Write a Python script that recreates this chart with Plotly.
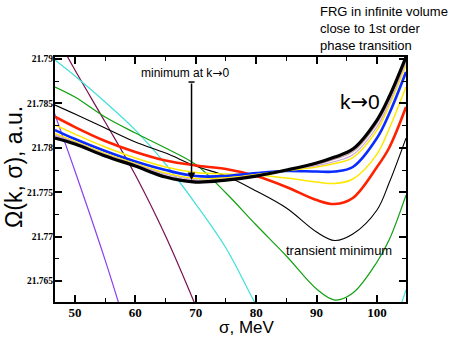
import plotly.graph_objects as go

# ---------------- data ----------------
sigma = [46.7, 50, 55, 60, 65, 70, 75, 80, 85, 90, 93, 96, 100, 102, 104.8]

omega_k0 = [21.78110, 21.78043, 21.77908, 21.77795, 21.77671, 21.77615, 21.77637, 21.77682,
            21.77750, 21.77829, 21.77896, 21.77986, 21.78313, 21.78572, 21.79023]
omega_pinkA = [21.78127, 21.78052, 21.77917, 21.77804, 21.77686, 21.77628, 21.77645, 21.77688,
               21.77748, 21.77814, 21.77873, 21.77955, 21.78276, 21.78538, 21.78993]
omega_pinkB = [21.78144, 21.78062, 21.77927, 21.77814, 21.77702, 21.77641, 21.77652, 21.77694,
               21.77747, 21.77798, 21.77847, 21.77922, 21.78238, 21.78505, 21.78962]
omega_yellow2 = [21.78161, 21.78071, 21.77936, 21.77823, 21.77716, 21.77654, 21.77660, 21.77699,
                 21.77744, 21.77784, 21.77823, 21.77891, 21.78200, 21.78471, 21.78932]
omega_blue = [21.78200, 21.78099, 21.77964, 21.77846, 21.77750, 21.77682, 21.77682, 21.77716,
              21.77739, 21.77733, 21.77733, 21.77784, 21.78110, 21.78381, 21.78854]
omega_yellow1 = [21.78257, 21.78155, 21.78009, 21.77885, 21.77784, 21.77722, 21.77705, 21.77694,
                 21.77660, 21.77615, 21.77598, 21.77649, 21.77930, 21.78212, 21.78685]
omega_red = [21.78350, 21.78234, 21.78077, 21.77953, 21.77857, 21.77801, 21.77761, 21.77682,
             21.77559, 21.77412, 21.77367, 21.77435, 21.77784, 21.77998, 21.78459]
omega_black = [21.78482, 21.78381, 21.78223, 21.78065, 21.77941, 21.77795, 21.77682, 21.77514,
               21.77322, 21.77052, 21.76956, 21.77029, 21.77300, 21.77604, 21.78110]
omega_green = [21.78685, 21.78572, 21.78347, 21.78167, 21.77998, 21.77812, 21.77491, 21.77131,
               21.76782, 21.76410, 21.76286, 21.76365, 21.76714, 21.76962, 21.77468]

sigma_cyan = [46.7, 50, 55, 60, 65, 70, 75, 80, 85, 90, 93, 96, 100, 103, 104.8]
omega_cyan = [21.78989, 21.78809, 21.78516, 21.78200, 21.77818, 21.77367, 21.76872, 21.76230,
              21.75650, 21.75300, 21.75200, 21.75250, 21.75550, 21.76050, 21.76400]

sigma_maroon = [48, 50, 55, 60, 65, 70]
omega_maroon = [21.79124, 21.78876, 21.78291, 21.77694, 21.77007, 21.76219]

sigma_purple = [46.0, 50, 55, 58]
omega_purple = [21.78505, 21.77739, 21.76736, 21.76083]

x_ticks = [50, 60, 70, 80, 90, 100]
x_ticklabels = ["50", "60", "70", "80", "90", "100"]
x_minor = [55, 65, 75, 85, 95]
y_ticks = [21.765, 21.77, 21.775, 21.78, 21.785, 21.79]
y_ticklabels = ["21.765", "21.77", "21.775", "21.78", "21.785", "21.79"]
y_minor = [21.7675, 21.7725, 21.7775, 21.7825, 21.7875]

# ---------------- figure ----------------
fig = go.Figure()

def add(xs, ys, color, width):
    fig.add_trace(go.Scatter(x=xs, y=ys, mode="lines",
                             line=dict(color=color, width=width, shape="spline", smoothing=1.0),
                             hoverinfo="skip", showlegend=False))

add(sigma_purple, omega_purple, "#8a3ff0", 1.2)
add(sigma_maroon, omega_maroon, "#7a1050", 1.2)
add(sigma_cyan, omega_cyan, "#40e0d8", 1.2)
add(sigma, omega_green, "#10a010", 1.2)
add(sigma, omega_black, "#000000", 1.1)
add(sigma, omega_red, "#ff2200", 2.6)
add(sigma, omega_yellow1, "#ffe800", 1.5)
add(sigma, omega_blue, "#0a2cff", 2.6)
add(sigma, omega_yellow2, "#ffe800", 1.5)
add(sigma, omega_pinkB, "#c8a2d8", 1.1)
add(sigma, omega_pinkA, "#c49a9a", 1.1)
add(sigma, omega_k0, "#000000", 3.2)

label_font = dict(family="Liberation Sans, Arial, sans-serif", color="black")
ARROW = "<span style='font-family:DejaVu Sans'>→</span>"

annotations = [
    dict(text="σ, MeV", xref="paper", yref="paper", x=0.547, y=-0.104,
         xanchor="center", yanchor="middle",
         showarrow=False, font=dict(size=17, **label_font)),
    dict(text="Ω(k, σ), a.u.", xref="paper", yref="paper", x=-0.117, y=0.551,
         xanchor="center", yanchor="middle",
         textangle=-90, showarrow=False, font=dict(size=23, **label_font)),
    dict(text="FRG in infinite volume<br>close to 1st order<br>phase transition",
         xref="paper", yref="paper", x=0.749, y=1.116, xanchor="left", yanchor="middle",
         align="left", showarrow=False, font=dict(size=13, **label_font)),
    dict(text="minimum at k" + ARROW + "0", x=68.2, y=21.78842, showarrow=False,
         font=dict(size=12, **label_font)),
    dict(text="", x=69.3, y=21.77637, ax=69.3, ay=21.78741, axref="x", ayref="y",
         showarrow=True, arrowhead=2, arrowsize=1, arrowwidth=1.5, arrowcolor="black",
         standoff=0, startstandoff=0),
    dict(text="k" + ARROW + "0", x=97.2, y=21.78516, showarrow=False,
         font=dict(size=21, **label_font)),
    dict(text="transient minimum", x=93.7, y=21.76849, showarrow=False,
         font=dict(size=13, **label_font)),
]

fig.add_shape(type="line", x0=68.8, x1=69.8, y0=21.78741, y1=21.78741,
              xref="x", yref="y", line=dict(color="black", width=1.5))

tick_font_x = dict(family="Liberation Serif, Times New Roman, serif", size=13, color="black", weight="bold")
tick_font_y = dict(family="Liberation Serif, Times New Roman, serif", size=9.5, color="black", weight="bold")

fig.update_layout(
    width=454, height=339,
    margin=dict(l=55, r=48, t=57, b=37),
    paper_bgcolor="white", plot_bgcolor="white",
    annotations=annotations,
    xaxis=dict(range=[46.7, 104.8], showgrid=False, zeroline=False,
               showline=True, linecolor="black", linewidth=2, mirror="ticks",
               ticks="inside", ticklen=7, tickwidth=1.5, tickcolor="black",
               tickvals=x_ticks, ticktext=x_ticklabels, tickfont=tick_font_x,
               ticklabelstandoff=-3,
               minor=dict(ticks="inside", ticklen=4, tickwidth=1.2, tickcolor="black",
                          tickvals=x_minor, showgrid=False)),
    yaxis=dict(range=[21.76264, 21.79023], showgrid=False, zeroline=False,
               showline=True, linecolor="black", linewidth=2, mirror="ticks",
               ticks="inside", ticklen=7, tickwidth=1.5, tickcolor="black",
               tickvals=y_ticks, ticktext=y_ticklabels, tickfont=tick_font_y,
               ticklabelstandoff=-2,
               minor=dict(ticks="inside", ticklen=4, tickwidth=1.2, tickcolor="black",
                          tickvals=y_minor, showgrid=False)),
)

fig.write_html("out.html", config={"displayModeBar": False},
               post_script="document.body.style.margin='0';document.body.style.overflow='hidden';")
